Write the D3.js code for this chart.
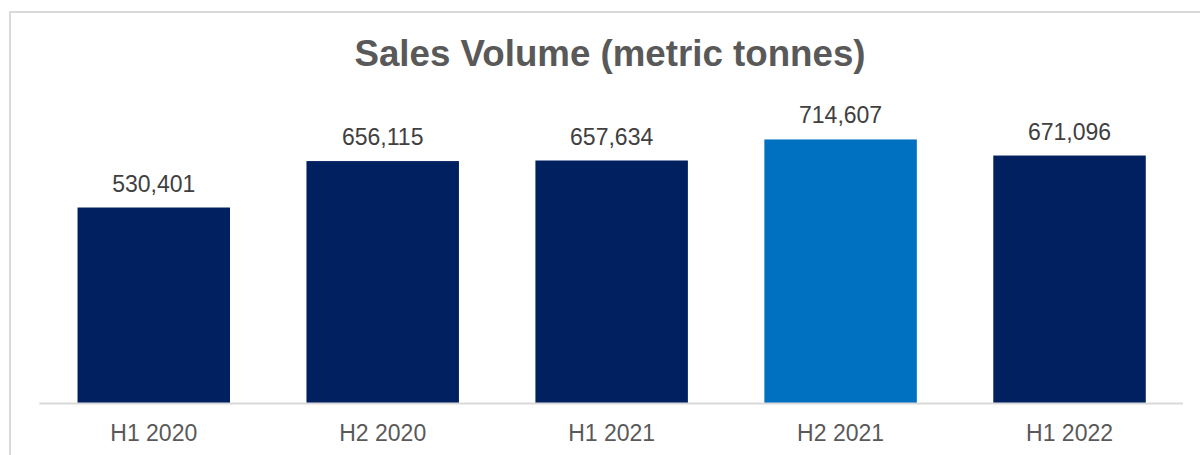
<!DOCTYPE html>
<html>
<head>
<meta charset="utf-8">
<script src="https://cdn.jsdelivr.net/npm/d3@7"></script>
<style>
  html, body { margin: 0; padding: 0; background: #ffffff; }
  svg { display: block; }
</style>
</head>
<body>
<svg id="chart" width="1200" height="455"></svg>
<script>
const title = "Sales Volume (metric tonnes)";
const categories = ["H1 2020", "H2 2020", "H1 2021", "H2 2021", "H1 2022"];
const values = [530401, 656115, 657634, 714607, 671096];
const highlight = ["H2 2021"];
const yDomain = [0, 800000];

const svg = d3.select("#chart");
const W = 1200, H = 455;

// outer chart border (continues past right/bottom edges)
svg.append("rect")
  .attr("x", 10).attr("y", 12)
  .attr("width", W + 20).attr("height", H + 20)
  .attr("fill", "#ffffff")
  .attr("stroke", "#d9d9d9")
  .attr("stroke-width", 2);

const x = d3.scaleBand()
  .domain(categories)
  .range([39.3, 1184])
  .paddingInner(0.334)
  .paddingOuter(0.167);

const y = d3.scaleLinear()
  .domain(yDomain)
  .range([403.5, 107.9]);

// title
svg.append("text")
  .attr("x", 610).attr("y", 65.5)
  .attr("text-anchor", "middle")
  .attr("font-family", "Liberation Sans, Arial, sans-serif")
  .attr("font-weight", "bold")
  .attr("font-size", 36.7)
  .attr("fill", "#595959")
  .text(title);

// bars
svg.append("g").selectAll("rect")
  .data(categories)
  .join("rect")
  .attr("x", d => x(d))
  .attr("y", (d, i) => y(values[i]))
  .attr("width", x.bandwidth())
  .attr("height", (d, i) => y(0) - y(values[i]))
  .attr("fill", d => highlight.includes(d) ? "#0070c0" : "#002060");

// value labels
const fmt = d3.format(",");
svg.append("g").selectAll("text")
  .data(categories)
  .join("text")
  .attr("x", d => x(d) + x.bandwidth() / 2)
  .attr("y", (d, i) => y(values[i]) - 16)
  .attr("text-anchor", "middle")
  .attr("font-family", "Liberation Sans, Arial, sans-serif")
  .attr("font-size", 23)
  .attr("fill", "#404040")
  .text((d, i) => fmt(values[i]));

// x axis
const xAxis = d3.axisBottom(x).tickSize(0).tickPadding(0);
const gx = svg.append("g")
  .attr("transform", `translate(0,${y(0)})`)
  .call(xAxis);
gx.select(".domain")
  .attr("stroke", "#d9d9d9")
  .attr("stroke-width", 2)
  .attr("d", `M${x.range()[0]},0H${x.range()[1] - 1}`);
gx.selectAll(".tick text")
  .attr("y", 37.5)
  .attr("dy", null)
  .attr("font-family", "Liberation Sans, Arial, sans-serif")
  .attr("font-size", 23)
  .attr("fill", "#595959");
</script>
</body>
</html>
